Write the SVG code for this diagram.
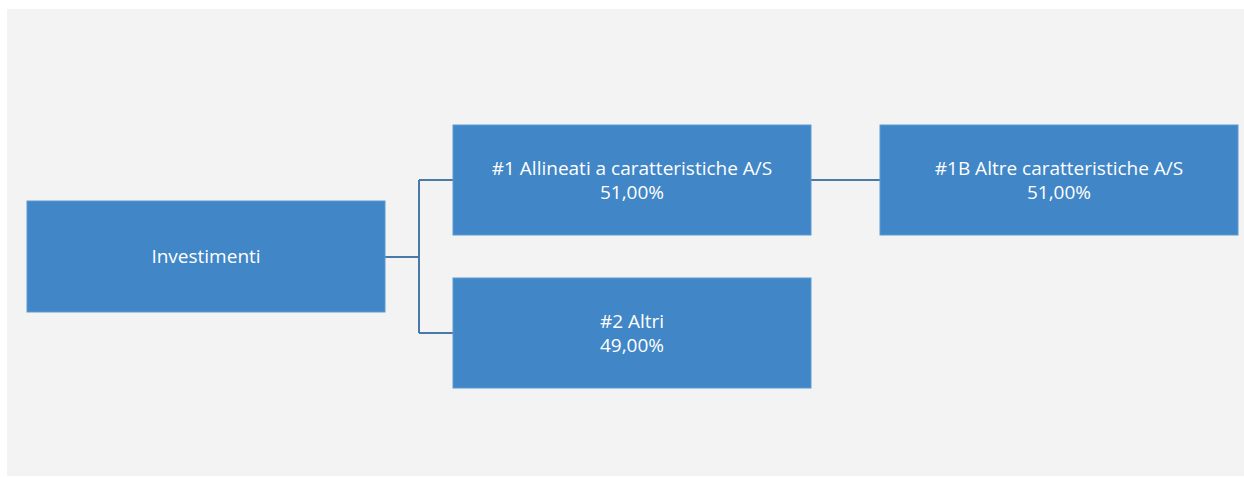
<svg xmlns="http://www.w3.org/2000/svg" width="1244" height="477" viewBox="0 0 1244 477">
<style>
.box{fill:#4186c6;stroke:#5b9bd5;stroke-width:1}
.t{font-family:"Open Sans","Liberation Sans",sans-serif;font-size:19px;fill:#ffffff;text-anchor:middle}
.c{fill:none;stroke:#4a78a8;stroke-width:2}
</style>
<rect x="7" y="9" width="1237" height="467" fill="#f3f3f3"/>
<g id="connectors">
<path class="c" d="M385 257 H419 M419 180 V333 M419 180 H453 M419 333 H453"/>
<path class="c" d="M811 180 H880"/>
</g>
<g id="investimenti">
<rect class="box" x="27" y="201" width="358" height="111"/>
<text class="t" x="206" y="263">Investimenti</text>
</g>
<g id="n1">
<rect class="box" x="453" y="125" width="358" height="110"/>
<text class="t" x="632" y="175">#1 Allineati a caratteristiche A/S</text>
<text class="t" x="632" y="199">51,00%</text>
</g>
<g id="n2">
<rect class="box" x="453" y="278" width="358" height="110"/>
<text class="t" x="632" y="328">#2 Altri</text>
<text class="t" x="632" y="352">49,00%</text>
</g>
<g id="n1b">
<rect class="box" x="880" y="125" width="358" height="110"/>
<text class="t" x="1059" y="175">#1B Altre caratteristiche A/S</text>
<text class="t" x="1059" y="199">51,00%</text>
</g>
</svg>
